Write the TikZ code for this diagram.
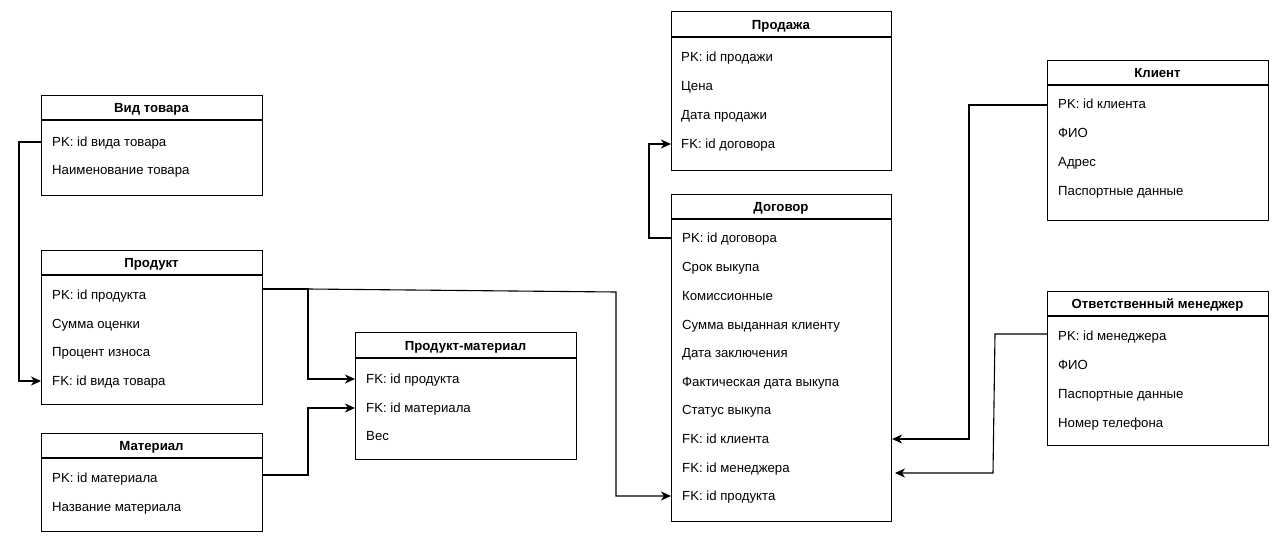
\documentclass[tikz,border=0pt]{standalone}
\usepackage{fontspec}
\setmainfont{Liberation Sans}
\usetikzlibrary{arrows.meta}
\begin{document}
\begin{tikzpicture}[x=1pt,y=-1pt,
  tbl/.style={draw, line width=1.1pt, rectangle, anchor=north west, inner sep=0pt},
  ttl/.style={font=\fontsize{13.2}{15}\selectfont\bfseries, inner sep=0pt, text height=9.5pt, text depth=0pt},
  fld/.style={font=\fontsize{13.2}{15}\selectfont, anchor=west, inner sep=0pt, text height=9.5pt, text depth=0pt},
  hdr/.style={line width=1.1pt},
  rel/.style={line width=1.1pt, -{Stealth[length=10pt,width=9pt,inset=3pt]}},
  lnk/.style={line width=1.1pt}]
\useasboundingbox[fill=white] (0,0) rectangle (1280,543);

% --- Вид товара
\node[tbl, minimum width=221pt, minimum height=100pt] (vid) at (41,95) {};
\draw[hdr] (41,120) -- (262,120);
\node[ttl] (vidT) at (151.5,108) {Вид товара};
\node[fld] (vid1) at (52,142) {PK: id вида товара};
\node[fld] (vid2) at (52,170) {Наименование товара};

% --- Продукт
\node[tbl, minimum width=221pt, minimum height=154pt] (prod) at (41,250) {};
\draw[hdr] (41,275) -- (262,275);
\node[ttl] (prodT) at (151.5,263) {Продукт};
\node[fld] (prod1) at (52,295) {PK: id продукта};
\node[fld] (prod2) at (52,324) {Сумма оценки};
\node[fld] (prod3) at (52,352) {Процент износа};
\node[fld] (prod4) at (52,381) {FK: id вида товара};

% --- Материал
\node[tbl, minimum width=221pt, minimum height=98pt] (mat) at (41,433) {};
\draw[hdr] (41,458) -- (262,458);
\node[ttl] (matT) at (151.5,446) {Материал};
\node[fld] (mat1) at (52,478) {PK: id материала};
\node[fld] (mat2) at (52,507) {Название материала};

% --- Продукт-материал
\node[tbl, minimum width=221pt, minimum height=127pt] (pm) at (355,332) {};
\draw[hdr] (355,358) -- (576,358);
\node[ttl] (pmT) at (465.5,346) {Продукт-материал};
\node[fld] (pm1) at (366,379) {FK: id продукта};
\node[fld] (pm2) at (366,408) {FK: id материала};
\node[fld] (pm3) at (366,436) {Вес};

% --- Продажа
\node[tbl, minimum width=220pt, minimum height=159pt] (sale) at (671,11) {};
\draw[hdr] (671,37) -- (891,37);
\node[ttl] (saleT) at (781,25) {Продажа};
\node[fld] (sale1) at (681,57) {PK: id продажи};
\node[fld] (sale2) at (681,86) {Цена};
\node[fld] (sale3) at (681,115) {Дата продажи};
\node[fld] (sale4) at (681,144) {FK: id договора};

% --- Договор
\node[tbl, minimum width=220pt, minimum height=327pt] (dog) at (671,194) {};
\draw[hdr] (671,219) -- (891,219);
\node[ttl] (dogT) at (781,207) {Договор};
\node[fld] (dog1) at (682,238) {PK: id договора};
\node[fld] (dog2) at (682,267) {Срок выкупа};
\node[fld] (dog3) at (682,296) {Комиссионные};
\node[fld] (dog4) at (682,325) {Сумма выданная клиенту};
\node[fld] (dog5) at (682,353) {Дата заключения};
\node[fld] (dog6) at (682,382) {Фактическая дата выкупа};
\node[fld] (dog7) at (682,410) {Статус выкупа};
\node[fld] (dog8) at (682,439) {FK: id клиента};
\node[fld] (dog9) at (682,468) {FK: id менеджера};
\node[fld] (dog10) at (682,496) {FK: id продукта};

% --- Клиент
\node[tbl, minimum width=221pt, minimum height=160pt] (cli) at (1047,60) {};
\draw[hdr] (1047,85) -- (1268,85);
\node[ttl] (cliT) at (1157.5,73) {Клиент};
\node[fld] (cli1) at (1058,104) {PK: id клиента};
\node[fld] (cli2) at (1058,133) {ФИО};
\node[fld] (cli3) at (1058,162) {Адрес};
\node[fld] (cli4) at (1058,191) {Паспортные данные};

% --- Ответственный менеджер
\node[tbl, minimum width=221pt, minimum height=154pt] (man) at (1047,291) {};
\draw[hdr] (1047,316) -- (1268,316);
\node[ttl] (manT) at (1157.5,304) {Ответственный менеджер};
\node[fld] (man1) at (1058,336) {PK: id менеджера};
\node[fld] (man2) at (1058,365) {ФИО};
\node[fld] (man3) at (1058,394) {Паспортные данные};
\node[fld] (man4) at (1058,423) {Номер телефона};

% --- connector end points
\coordinate (prodOut) at (262,289);
\coordinate (prodBend) at (308,289);
\coordinate (prodFar) at (616,292);
\coordinate (manIn) at (895,473);

% --- relations
\draw[rel] (vid.west |- vid1) -- ++(-22,0) |- (prod.west |- prod4);
\draw[rel] (prodOut) -- (prodBend) |- (pm.west |- pm1);
\draw[rel] (prodBend) -- (prodFar) |- (dog.west |- dog10);
\draw[rel] (mat.east |- 0,475) -| (prodBend |- 0,440) |- (pm.west |- pm2);
\draw[rel] (dog.west |- dog1) -- ++(-22,0) |- (sale.west |- sale4);
\draw[rel] (cli.west |- 0,105) -- (969,105) |- (dog.east |- dog8);
\draw[rel] (man.west |- 0,334) -- (995,334) -- (993,473) -- (manIn);
\draw[lnk] (prodOut) -- (prodBend);
\end{tikzpicture}
\end{document}
